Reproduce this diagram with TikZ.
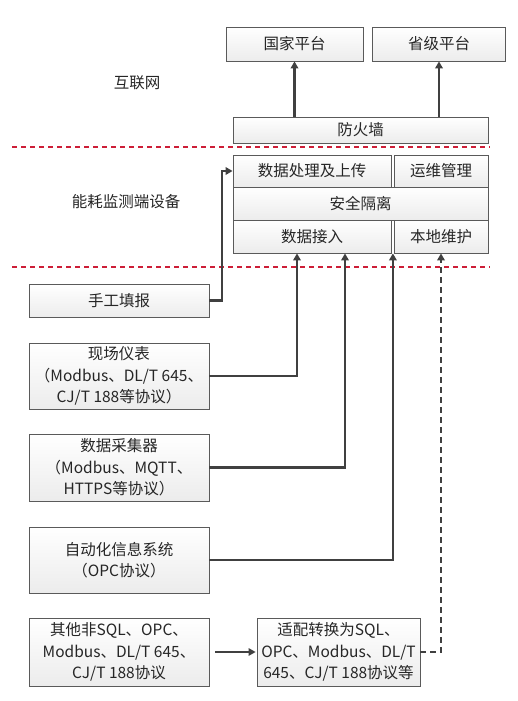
\documentclass[tikz,border=0pt]{standalone}
\usepackage{fontspec}
\setmainfont{Noto Sans CJK SC}
\usepackage{tikz}
\usetikzlibrary{arrows.meta,calc}
\definecolor{GrisLinea}{RGB}{64,64,64}
\definecolor{GrisCaja}{RGB}{90,90,90}
\definecolor{RojoZona}{RGB}{205,30,55}
\tikzset{
  caja/.style={draw=GrisCaja,line width=0.8pt,top color=white,bottom color=gray!15,
    align=center,inner sep=0pt,font=\fontsize{15.5}{21.5}\selectfont,text=black!85},
  enlace/.style={draw=GrisLinea,line width=2.4pt,-{Triangle[length=7pt,width=7.5pt]}},
  zona/.style={draw=RojoZona,line width=1.1pt,dash pattern=on 5pt off 4pt},
  rotulo/.style={font=\fontsize{15.5}{18}\selectfont,text=black!85}
}

\begin{document}
\begin{tikzpicture}[x=1pt,y=-1pt]
  \useasboundingbox (0,0) rectangle (517,701);
  % plataformas
  \node[caja,minimum width=137pt,minimum height=34pt] (gj) at (294.5,44) {国家平台};
  \node[caja,minimum width=133pt,minimum height=34pt] (sj) at (439,44) {省级平台};
  \node[caja,minimum width=255pt,minimum height=26pt] (fhq) at (360.5,130) {防火墙};
  % equipo de monitoreo
  \node[caja,minimum width=158pt,minimum height=32pt] (sjcl) at (312,171) {数据处理及上传};
  \node[caja,minimum width=94pt,minimum height=32pt] (ywgl) at (441,171) {运维管理};
  \node[caja,minimum width=255pt,minimum height=33pt] (aqgl) at (360.5,203.5) {安全隔离};
  \node[caja,minimum width=158pt,minimum height=33pt] (sjjr) at (312,236.5) {数据接入};
  \node[caja,minimum width=94pt,minimum height=33pt] (bdwh) at (441,236.5) {本地维护};
  % zonas
  \node[rotulo] (hlw) at (137,83) {互联网};
  \node[rotulo] (nhjc) at (126,202) {能耗监测端设备};
  \draw[zona] (12,147) -- (490,147);
  \draw[zona] (12,267) -- (490,267);
  % fuentes de datos
  \node[caja,minimum width=180pt,minimum height=33pt] (sgtb) at (119,300.5) {手工填报};
  \node[caja,minimum width=180pt,minimum height=66pt] (xcyb) at (119,376)
    {现场仪表\\（Modbus、DL/T 645、\\CJ/T 188等协议）};
  \node[caja,minimum width=180pt,minimum height=67pt] (sjcj) at (119,467.5)
    {数据采集器\\（Modbus、MQTT、\\HTTPS等协议）};
  \node[caja,minimum width=180pt,minimum height=66pt] (zdh) at (119,560)
    {自动化信息系统\\（OPC协议）};
  \node[caja,minimum width=180pt,minimum height=68pt] (qt) at (119,652)
    {其他非SQL、OPC、\\Modbus、DL/T 645、\\CJ/T 188协议};
  \node[caja,minimum width=163pt,minimum height=68pt] (shpz) at (338.5,652)
    {适配转换为SQL、\\OPC、Modbus、DL/T\\645、CJ/T 188协议等};
  \coordinate (k1) at (222,171);
  % conexiones
  \draw[enlace] (fhq.north -| gj.south) -- (gj.south);
  \draw[enlace] (fhq.north -| sj.south) -- (sj.south);
  \draw[enlace] (sgtb.east) -| (k1) -- (sjcl.west);
  \draw[enlace] (xcyb.east) -| ([xshift=-15pt]sjjr.south);
  \draw[enlace] (sjcj.east) -| ([xshift=33pt]sjjr.south);
  \draw[enlace] (zdh.east) -| ([xshift=1.5pt]sjjr.south east);
  \draw[enlace,line width=1.4pt,shorten <=6pt,shorten >=1pt] (qt.east) -- (shpz.west);
  \draw[enlace,dash pattern=on 6pt off 4pt] (shpz.east) -| (bdwh.south);
\end{tikzpicture}
\end{document}
